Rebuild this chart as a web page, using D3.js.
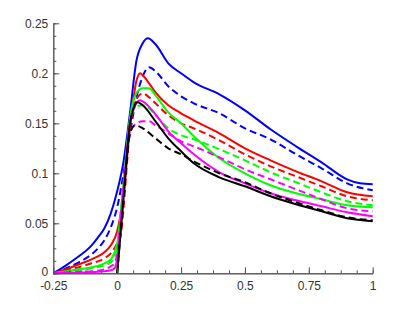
<!DOCTYPE html>
<html>
<head>
<meta charset="utf-8">
<script src="https://cdn.jsdelivr.net/npm/d3@7"></script>
<style>
  body { margin: 0; background: #fff; }
  .axis text { font-family: "Liberation Sans", Arial, sans-serif; font-size: 12px; fill: #333; }
  .axis path, .axis line { stroke: #555; }
  .curve { fill: none; stroke-width: 2; }
</style>
</head>
<body>
<script>
// values
var blueSolidX = [-0.25, -0.2, -0.15, -0.1, -0.075, -0.05, -0.025, 0, 0.025, 0.05, 0.075, 0.1, 0.12, 0.15, 0.2, 0.25, 0.3, 0.4, 0.5, 0.6, 0.7, 0.8, 0.9, 0.95, 1];
var blueSolidY = [0, 0.008, 0.017, 0.028, 0.036, 0.045, 0.060, 0.082, 0.112, 0.160, 0.212, 0.230, 0.235, 0.229, 0.210, 0.200, 0.191, 0.179, 0.163, 0.144, 0.127, 0.111, 0.094, 0.090, 0.089];

var blueDashX = [-0.25, -0.2, -0.15, -0.1, -0.075, -0.05, -0.025, 0, 0.025, 0.05, 0.075, 0.1, 0.125, 0.15, 0.2, 0.25, 0.3, 0.4, 0.5, 0.6, 0.7, 0.8, 0.9, 1];
var blueDashY = [0, 0.005, 0.011, 0.019, 0.025, 0.033, 0.046, 0.066, 0.100, 0.140, 0.175, 0.197, 0.206, 0.202, 0.187, 0.177, 0.170, 0.160, 0.145, 0.134, 0.119, 0.105, 0.090, 0.083];

var redSolidX = [-0.25, -0.2, -0.15, -0.1, -0.05, -0.025, 0, 0.025, 0.05, 0.075, 0.09, 0.1, 0.125, 0.15, 0.2, 0.25, 0.3, 0.4, 0.5, 0.6, 0.7, 0.8, 0.9, 1];
var redSolidY = [0, 0.004, 0.009, 0.014, 0.021, 0.028, 0.042, 0.080, 0.145, 0.192, 0.200, 0.198, 0.190, 0.181, 0.168, 0.160, 0.153, 0.140, 0.125, 0.113, 0.102, 0.092, 0.081, 0.077];

var redDashX = [-0.25, -0.2, -0.15, -0.1, -0.05, -0.025, 0, 0.015, 0.025, 0.04, 0.05, 0.075, 0.1, 0.125, 0.15, 0.2, 0.25, 0.3, 0.4, 0.5, 0.6, 0.7, 0.8, 0.9, 1];
var redDashY = [0, 0.003, 0.006, 0.010, 0.015, 0.020, 0.030, 0.040, 0.065, 0.115, 0.145, 0.174, 0.180, 0.176, 0.170, 0.158, 0.150, 0.145, 0.133, 0.119, 0.107, 0.097, 0.087, 0.077, 0.073];

var greenSolidX = [-0.25, -0.2, -0.15, -0.1, -0.05, -0.025, 0, 0.025, 0.05, 0.075, 0.1, 0.125, 0.15, 0.2, 0.25, 0.3, 0.4, 0.5, 0.6, 0.7, 0.8, 0.9, 1];
var greenSolidY = [0, 0.002, 0.004, 0.006, 0.010, 0.014, 0.030, 0.090, 0.155, 0.180, 0.185, 0.185, 0.178, 0.161, 0.150, 0.137, 0.115, 0.100, 0.088, 0.080, 0.074, 0.068, 0.066];

var greenDashX = [-0.25, -0.2, -0.15, -0.1, -0.05, -0.025, 0, 0.025, 0.05, 0.075, 0.1, 0.125, 0.15, 0.2, 0.25, 0.3, 0.4, 0.5, 0.6, 0.7, 0.8, 0.9, 1];
var greenDashY = [0, 0.001, 0.003, 0.005, 0.008, 0.011, 0.025, 0.088, 0.150, 0.167, 0.168, 0.165, 0.158, 0.145, 0.138, 0.134, 0.124, 0.113, 0.101, 0.091, 0.081, 0.072, 0.068];

var magentaSolidX = [-0.25, -0.2, -0.1, -0.05, -0.025, -0.01, 0, 0.025, 0.05, 0.075, 0.09, 0.1, 0.15, 0.2, 0.25, 0.3, 0.4, 0.5, 0.6, 0.7, 0.8, 0.9, 1];
var magentaSolidY = [0, 0.0005, 0.001, 0.002, 0.003, 0.005, 0.015, 0.085, 0.150, 0.170, 0.173, 0.172, 0.159, 0.142, 0.130, 0.119, 0.101, 0.090, 0.080, 0.073, 0.067, 0.061, 0.057];

var magentaDashX = [-0.25, -0.2, -0.1, -0.05, -0.025, -0.01, 0, 0.025, 0.05, 0.075, 0.1, 0.125, 0.15, 0.2, 0.25, 0.3, 0.4, 0.5, 0.6, 0.7, 0.8, 0.9, 1];
var magentaDashY = [0, 0.001, 0.002, 0.004, 0.007, 0.010, 0.020, 0.090, 0.140, 0.150, 0.152, 0.152, 0.148, 0.140, 0.132, 0.127, 0.116, 0.104, 0.094, 0.084, 0.074, 0.065, 0.062];

var blackSolidX = [0, 0.025, 0.05, 0.065, 0.08, 0.1, 0.15, 0.2, 0.25, 0.3, 0.4, 0.5, 0.6, 0.7, 0.8, 0.9, 1];
var blackSolidY = [0, 0.075, 0.150, 0.166, 0.171, 0.168, 0.152, 0.135, 0.122, 0.110, 0.096, 0.087, 0.077, 0.069, 0.062, 0.055, 0.052];

var blackDashX = [0, 0.025, 0.05, 0.07, 0.1, 0.15, 0.2, 0.25, 0.3, 0.4, 0.5, 0.6, 0.7, 0.8, 0.9, 1];
var blackDashY = [0, 0.075, 0.140, 0.148, 0.145, 0.135, 0.125, 0.119, 0.112, 0.100, 0.091, 0.080, 0.071, 0.063, 0.056, 0.053];

var xTicks = [-0.25, 0, 0.25, 0.5, 0.75, 1];
var yTicks = [0, 0.05, 0.1, 0.15, 0.2, 0.25];

var series = [
    {xs: blueSolidX, ys: blueSolidY, color: "#0000ff", dashed: false},
    {xs: blueDashX, ys: blueDashY, color: "#0000ff", dashed: true},
    {xs: redSolidX, ys: redSolidY, color: "#ff0000", dashed: false},
    {xs: redDashX, ys: redDashY, color: "#ff0000", dashed: true},
    {xs: greenSolidX, ys: greenSolidY, color: "#00ff00", dashed: false},
    {xs: greenDashX, ys: greenDashY, color: "#00ff00", dashed: true},
    {xs: magentaSolidX, ys: magentaSolidY, color: "#ff00ff", dashed: false},
    {xs: magentaDashX, ys: magentaDashY, color: "#ff00ff", dashed: true},
    {xs: blackSolidX, ys: blackSolidY, color: "#000000", dashed: false},
    {xs: blackDashX, ys: blackDashY, color: "#000000", dashed: true}
];

// canvas
var margin = {top: 23.3, right: 39.3, bottom: 35.7, left: 53.3},
    width = 412 - margin.left - margin.right,
    height = 309 - margin.top - margin.bottom;

var x = d3.scaleLinear().domain([-0.25, 1]).range([0, width]);
var y = d3.scaleLinear().domain([0, 0.25]).range([height, 0]);

var svg = d3.select("body")
    .append("svg")
        .attr("width", 412)
        .attr("height", 309)
    .append("g")
        .attr("transform", "translate(" + margin.left + "," + margin.top + ")");

var line = d3.line()
    .x(function(d) { return x(d[0]); })
    .y(function(d) { return y(d[1]); })
    .curve(d3.curveMonotoneX);

series.forEach(function(s) {
    var pts = s.xs.map(function(v, i) { return [v, s.ys[i]]; });
    svg.append("path")
        .attr("class", "curve")
        .style("stroke", s.color)
        .style("stroke-dasharray", s.dashed ? "7,4" : null)
        .attr("d", line(pts));
});

// minor ticks
svg.append("g")
    .attr("class", "axis")
    .attr("transform", "translate(0," + height + ")")
    .call(d3.axisBottom(x).tickValues(d3.range(-0.25, 1.0001, 0.0625)).tickSize(-3).tickSizeOuter(0).tickFormat(""));
svg.append("g")
    .attr("class", "axis")
    .call(d3.axisLeft(y).tickValues(d3.range(0, 0.2501, 0.0125)).tickSize(-3).tickSizeOuter(0).tickFormat(""));

// major ticks + labels
svg.append("g")
    .attr("class", "axis")
    .attr("transform", "translate(0," + height + ")")
    .call(d3.axisBottom(x).tickValues(xTicks).tickSize(-6).tickSizeOuter(0).tickPadding(8)
        .tickFormat(function(d) { return String(d); }));
var yAxisG = svg.append("g")
    .attr("class", "axis")
    .call(d3.axisLeft(y).tickValues(yTicks).tickSize(-6).tickSizeOuter(0).tickPadding(5)
        .tickFormat(function(d) { return String(d); }));

// the "0" label sits right above "-0.25", lift it a hair
yAxisG.selectAll(".tick text")
    .filter(function(d) { return d === 0; })
    .attr("dy", "0.15em");
</script>
</body>
</html>
